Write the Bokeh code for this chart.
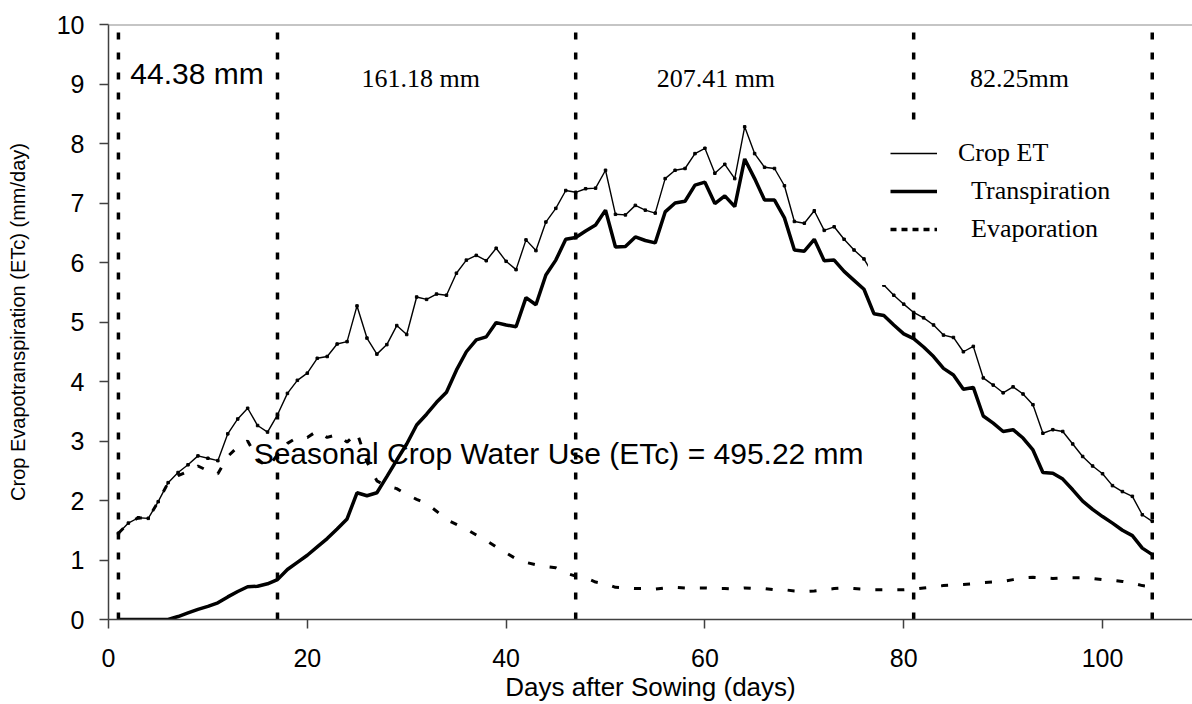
from bokeh.plotting import figure
from bokeh.models import (Range1d, FixedTicker, Label, Legend, LegendItem,
                          BoxAnnotation, Span, ColumnDataSource)
from bokeh.embed import file_html
from bokeh.resources import INLINE

# ---------------- data ----------------
days = list(range(1, 106))

crop_et = [1.45, 1.62, 1.71, 1.70, 1.98, 2.30, 2.47, 2.60, 2.75, 2.71,
           2.67, 3.12, 3.37, 3.55, 3.26, 3.15, 3.44, 3.80, 4.02, 4.14,
           4.39, 4.42, 4.63, 4.67, 5.27, 4.73, 4.46, 4.62, 4.94, 4.79,
           5.42, 5.38, 5.47, 5.45, 5.82, 6.04, 6.12, 6.03, 6.24, 6.02,
           5.88, 6.38, 6.20, 6.68, 6.91, 7.21, 7.18, 7.24, 7.25, 7.55,
           6.81, 6.80, 6.96, 6.88, 6.83, 7.41, 7.55, 7.58, 7.83, 7.92,
           7.50, 7.65, 7.41, 8.28, 7.83, 7.60, 7.58, 7.29, 6.69, 6.66,
           6.87, 6.54, 6.60, 6.39, 6.21, 6.06, 5.78, 5.62, 5.45, 5.30,
           5.16, 5.07, 4.95, 4.78, 4.74, 4.50, 4.59, 4.06, 3.94, 3.81,
           3.91, 3.79, 3.61, 3.13, 3.19, 3.16, 2.95, 2.74, 2.58, 2.45,
           2.25, 2.15, 2.07, 1.76, 1.65]

transpiration = [0.00, 0.00, 0.00, 0.00, 0.00, 0.00, 0.05, 0.11, 0.17, 0.22,
                 0.28, 0.38, 0.47, 0.55, 0.56, 0.60, 0.67, 0.84, 0.96, 1.08,
                 1.22, 1.36, 1.52, 1.69, 2.13, 2.08, 2.13, 2.40, 2.68, 2.95,
                 3.27, 3.45, 3.65, 3.82, 4.19, 4.50, 4.70, 4.75, 4.99, 4.95,
                 4.92, 5.41, 5.29, 5.79, 6.04, 6.39, 6.42, 6.53, 6.63, 6.88,
                 6.26, 6.27, 6.43, 6.37, 6.33, 6.85, 7.00, 7.03, 7.30, 7.35,
                 6.99, 7.12, 6.94, 7.74, 7.41, 7.05, 7.05, 6.75, 6.21, 6.19,
                 6.39, 6.03, 6.04, 5.85, 5.70, 5.55, 5.14, 5.11, 4.95, 4.80,
                 4.72, 4.58, 4.42, 4.22, 4.11, 3.87, 3.90, 3.42, 3.30, 3.16,
                 3.19, 3.05, 2.85, 2.47, 2.46, 2.36, 2.18, 1.99, 1.85, 1.73,
                 1.62, 1.50, 1.41, 1.20, 1.09]

evaporation = [1.45, 1.62, 1.71, 1.70, 1.98, 2.30, 2.42, 2.49, 2.58, 2.50,
               2.45, 2.74, 2.90, 3.00, 2.70, 2.55, 2.77, 2.96, 3.06, 3.06,
               3.17, 3.06, 3.11, 2.98, 3.14, 2.65, 2.33, 2.24, 2.20, 2.10,
               2.02, 1.95, 1.82, 1.68, 1.60, 1.52, 1.42, 1.33, 1.22, 1.12,
               1.02, 0.96, 0.92, 0.89, 0.87, 0.78, 0.73, 0.70, 0.63, 0.60,
               0.54, 0.53, 0.52, 0.52, 0.51, 0.53, 0.54, 0.53, 0.53, 0.53,
               0.52, 0.52, 0.51, 0.53, 0.52, 0.52, 0.50, 0.50, 0.48, 0.47,
               0.48, 0.50, 0.52, 0.53, 0.52, 0.51, 0.50, 0.50, 0.50, 0.50,
               0.51, 0.53, 0.55, 0.57, 0.58, 0.59, 0.60, 0.62, 0.63, 0.64,
               0.67, 0.70, 0.71, 0.70, 0.69, 0.70, 0.70, 0.70, 0.69, 0.67,
               0.66, 0.64, 0.61, 0.57, 0.55]

stage_bounds = [1, 17, 47, 81, 105]
stage_totals = ["44.38 mm", "161.18 mm", "207.41 mm", "82.25mm"]
x_ticks = [0, 20, 40, 60, 80, 100]
y_ticks = [0, 1, 2, 3, 4, 5, 6, 7, 8, 9, 10]
seasonal_text = "Seasonal Crop Water Use (ETc) = 495.22 mm"

SANS = "Liberation Sans"
SERIF = "Liberation Serif"

src = ColumnDataSource(dict(day=days, et=crop_et, t=transpiration, e=evaporation))

p = figure(width=1192, height=704, output_backend="svg", toolbar_location=None,
           x_range=Range1d(0, 109.05), y_range=Range1d(0, 10),
           min_border_left=108, min_border_right=0,
           min_border_top=24, min_border_bottom=84)

p.background_fill_color = "white"
p.border_fill_color = "white"
p.outline_line_color = None
p.xgrid.visible = False
p.ygrid.visible = False

# axes
for ax in (p.xaxis[0], p.yaxis[0]):
    ax.axis_line_color = "#404040"
    ax.axis_line_width = 1.5
    ax.major_tick_line_color = "#404040"
    ax.major_tick_line_width = 1.5
    ax.major_tick_in = 0
    ax.major_tick_out = 9
    ax.minor_tick_line_color = None
    ax.major_label_text_font = SANS
    ax.major_label_text_font_size = "25px"
    ax.major_label_text_color = "black"
    ax.axis_label_text_font = SANS
    ax.axis_label_text_font_style = "normal"
    ax.axis_label_text_color = "black"

p.xaxis.ticker = FixedTicker(ticks=x_ticks)
p.yaxis.ticker = FixedTicker(ticks=y_ticks)
p.xaxis.axis_label = "Days after Sowing (days)"
p.yaxis.axis_label = "Crop Evapotranspiration (ETc) (mm/day)"
p.xaxis.axis_label_text_font_size = "26px"
p.yaxis.axis_label_text_font_size = "20px"
p.xaxis.major_label_standoff = 20
p.xaxis.axis_label_standoff = 2
p.yaxis.major_label_standoff = 15
p.yaxis.axis_label_standoff = 25

# top frame line
p.add_layout(Span(location=10, dimension="width", line_color="#8c8c8c", line_width=2))

# series
r_e = p.line("day", "e", source=src, line_color="black", line_width=3, line_dash="7 15")
r_et = p.line("day", "et", source=src, line_color="black", line_width=1.4)
p.scatter("day", "et", source=src, size=2.5, marker="square", color="black")
r_t = p.line("day", "t", source=src, line_color="black", line_width=3.5)

# stage boundaries
p.segment(x0=stage_bounds, y0=[0] * len(stage_bounds), x1=stage_bounds,
          y1=[10] * len(stage_bounds), line_color="black", line_width=3.5,
          line_dash="7 13")

# stage totals
p.add_layout(Label(x=2.2, y=9.18, text=stage_totals[0], text_font=SANS,
                   text_font_size="30px", text_baseline="middle", text_align="left",
                   text_color="black"))
for xc, txt in zip([31.4, 61.1, 91.65], stage_totals[1:]):
    p.add_layout(Label(x=xc, y=9.10, text=txt, text_font=SERIF,
                       text_font_size="26px", text_baseline="middle",
                       text_align="center", text_color="black"))

p.add_layout(Label(x=14.6, y=2.79, text=seasonal_text, text_font=SANS,
                   text_font_size="30px", text_baseline="middle", text_align="left",
                   text_color="black"))

# legend box (white, covers lines)
p.add_layout(BoxAnnotation(left=76.4, right=100, bottom=5.62, top=8.38,
                           fill_color="white", fill_alpha=1.0, line_color=None))

# hidden copy of the evaporation series, used only for its legend swatch
r_e_leg = p.line("day", "e", source=src, line_color="black", line_width=3.5,
                 line_dash="6 5", visible=False)

leg = Legend(items=[
    LegendItem(label="Crop ET", renderers=[r_et]),
    LegendItem(label="\u00a0\u00a0Transpiration", renderers=[r_t]),
    LegendItem(label="\u00a0\u00a0Evaporation", renderers=[r_e_leg]),
], location=(782, 374))
leg.padding = 0
leg.margin = 0
leg.spacing = 6
leg.glyph_width = 47
leg.glyph_height = 32
leg.label_height = 32
leg.label_standoff = 21
leg.label_text_font = SERIF
leg.label_text_font_size = "26px"
leg.label_text_color = "black"
leg.background_fill_alpha = 0
leg.border_line_color = None
leg.inactive_fill_alpha = 0
p.add_layout(leg)

open("out.html", "w").write(file_html(p, INLINE))
